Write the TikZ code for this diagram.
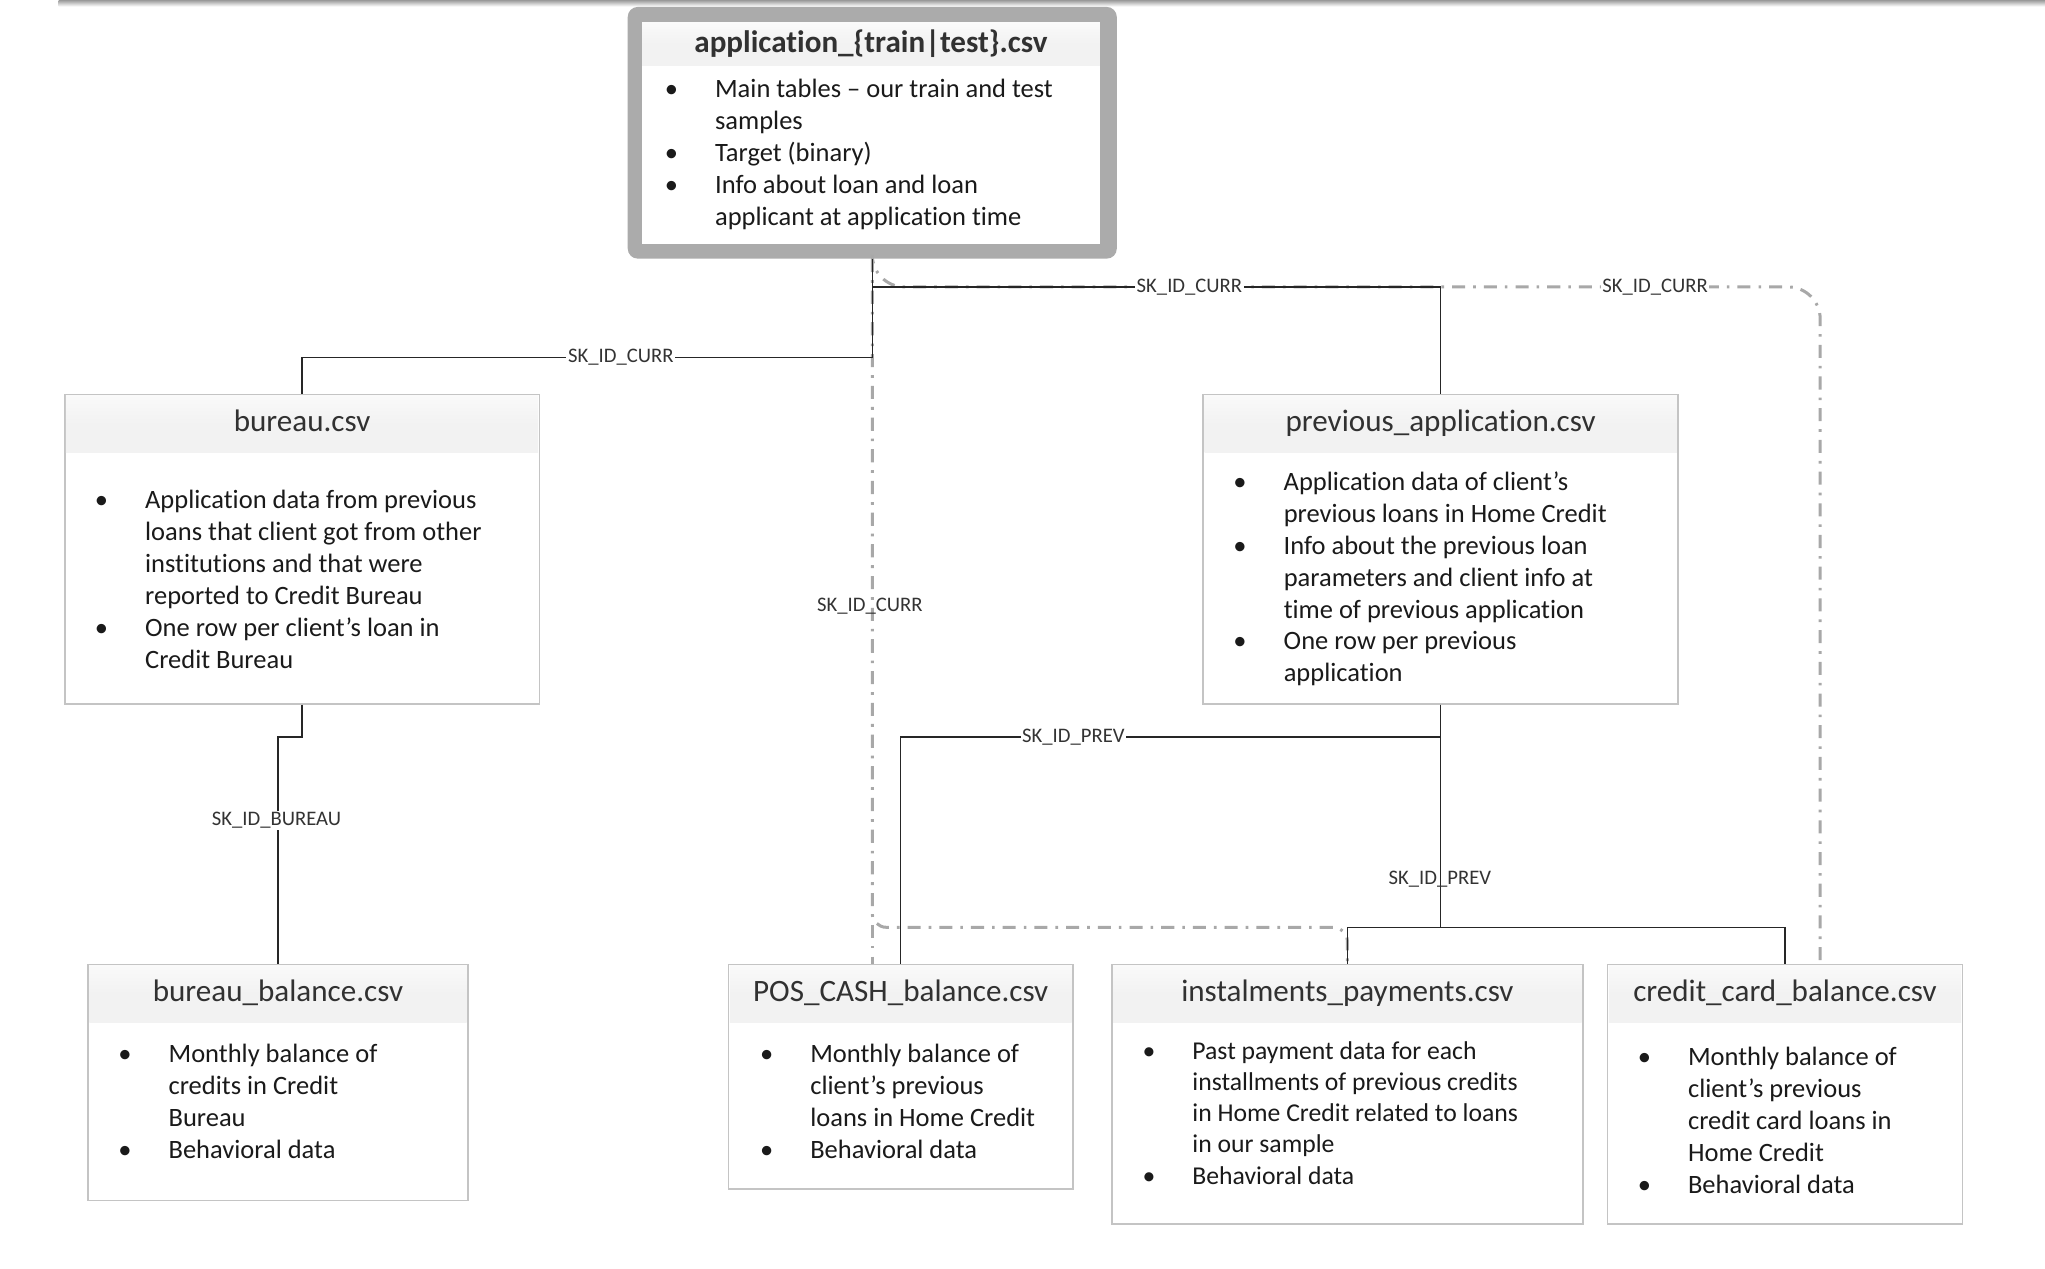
\documentclass[tikz,border=0pt]{standalone}
\usepackage{fontspec}
\setmainfont{Carlito}[Ligatures=NoCommon]
\usetikzlibrary{calc}
\definecolor{bordergray}{HTML}{C4C4C4}
\definecolor{hdrgray}{HTML}{F2F2F2}
\definecolor{appgray}{HTML}{ABABAB}
\definecolor{linkgray}{HTML}{A8A8A8}
\definecolor{txt}{HTML}{1A1A1A}
\newcommand\pxu{0.65pt}
\newcommand\bodyfont{\fontsize{13.2}{15.9}\selectfont}
\newcommand\bitem{\llap{\textbullet\hspace{18.5pt}}}
\tikzset{
 tbox/.style={draw=bordergray, line width=0.8pt, fill=white, rectangle, inner sep=0pt, anchor=north west},
 hdr/.style={top color=hdrgray!40, bottom color=hdrgray, middle color=hdrgray, inner sep=0pt, anchor=north,
   font=\fontsize{15.5}{18}\selectfont, text=txt!90, text height=11pt, text depth=3pt},
 body/.style={inner sep=0pt, anchor=base west, font=\bodyfont, text=txt},
 fk/.style={line width=0.75pt, draw=black!85},
 pk/.style={line width=1.5pt, draw=linkgray, dash pattern=on 6.5pt off 4pt on 1.3pt off 4pt},
 lbl/.style={font=\fontsize{10.3}{12}\selectfont, text=black!80, inner sep=0.8pt},
 lblh/.style={lbl, fill=white},
}
\begin{document}
\begin{tikzpicture}[x=0.65pt,y=-0.65pt]
\useasboundingbox (0,0) rectangle (1568,973);
\fill[top color=black!40, bottom color=white] (45,0) rectangle (1568,5);

% application box
\node[fill=appgray, rounded corners=5pt, minimum width=375*\pxu, minimum height=193*\pxu, inner sep=0pt, anchor=north west] (app) at (481,5) {};
\node[fill=white, minimum width=351*\pxu, minimum height=170*\pxu, inner sep=0pt, anchor=north west] (appIn) at (492,17) {};
\node[hdr, minimum width=351*\pxu, minimum height=33*\pxu] (appH) at (appIn.north) {\textbf{application\_\{train|test\}.csv}};
\node[body] (appB) at (548,75) {\begin{tabular}[t]{@{}l@{}}
\bitem Main tables – our train and test\\
samples\\
\bitem Target (binary)\\
\bitem Info about loan and loan\\
applicant at application time
\end{tabular}};

% bureau
\node[tbox, minimum width=364*\pxu, minimum height=237*\pxu] (bureau) at (49,302) {};
\node[hdr, minimum width=364*\pxu-1.2pt, minimum height=44*\pxu] (bureauH) at ($(bureau.north)+(0,0.7)$) {bureau.csv};
\node[body] (bureauB) at (111,390) {\begin{tabular}[t]{@{}l@{}}
\bitem Application data from previous\\
loans that client got from other\\
institutions and that were\\
reported to Credit Bureau\\
\bitem One row per client’s loan in\\
Credit Bureau
\end{tabular}};

% previous application
\node[tbox, minimum width=364*\pxu, minimum height=237*\pxu] (prev) at (922,302) {};
\node[hdr, minimum width=364*\pxu-1.2pt, minimum height=44*\pxu] (prevH) at ($(prev.north)+(0,0.7)$) {previous\_application.csv};
\node[body] (prevB) at (984,376) {\begin{tabular}[t]{@{}l@{}}
\bitem Application data of client’s\\
previous loans in Home Credit\\
\bitem Info about the previous loan\\
parameters and client info at\\
time of previous application\\
\bitem One row per previous\\
application
\end{tabular}};

% bureau balance
\node[tbox, minimum width=291*\pxu, minimum height=181*\pxu] (bb) at (67,739) {};
\node[hdr, minimum width=291*\pxu-1.2pt, minimum height=44*\pxu] (bbH) at ($(bb.north)+(0,0.7)$) {bureau\_balance.csv};
\node[body] (bbB) at (129,815) {\begin{tabular}[t]{@{}l@{}}
\bitem Monthly balance of\\
credits in Credit\\
Bureau\\
\bitem Behavioral data
\end{tabular}};

% POS cash
\node[tbox, minimum width=264*\pxu, minimum height=172*\pxu] (POS) at (558,739) {};
\node[hdr, minimum width=264*\pxu-1.2pt, minimum height=44*\pxu] (POSH) at ($(POS.north)+(0,0.7)$) {POS\_CASH\_balance.csv};
\node[body] (POSB) at (621,815) {\begin{tabular}[t]{@{}l@{}}
\bitem Monthly balance of\\
client’s previous\\
loans in Home Credit\\
\bitem Behavioral data
\end{tabular}};

% instalments
\node[tbox, minimum width=361*\pxu, minimum height=199*\pxu] (inst) at (852,739) {};
\node[hdr, minimum width=361*\pxu-1.2pt, minimum height=44*\pxu] (instH) at ($(inst.north)+(0,0.7)$) {instalments\_payments.csv};
\node[body, font=\fontsize{12.8}{15.6}\selectfont] (instB) at (914,812) {\begin{tabular}[t]{@{}l@{}}
\bitem Past payment data for each\\
installments of previous credits\\
in Home Credit related to loans\\
in our sample\\
\bitem Behavioral data
\end{tabular}};

% credit card
\node[tbox, minimum width=272*\pxu, minimum height=199*\pxu] (credit) at (1232,739) {};
\node[hdr, minimum width=272*\pxu-1.2pt, minimum height=44*\pxu] (creditH) at ($(credit.north)+(0,0.7)$) {credit\_card\_balance.csv};
\node[body] (creditB) at (1294,817) {\begin{tabular}[t]{@{}l@{}}
\bitem Monthly balance of\\
client’s previous\\
credit card loans in\\
Home Credit\\
\bitem Behavioral data
\end{tabular}};

% dash-dot SK_ID_CURR links
\coordinate (ccin) at ($(credit.north)+(27,0)$);
\draw[pk] (app.south) -- (app.south |- POS.north);
\draw[pk, rounded corners=7pt] (app.south) -- (app.south |- 0,711) -- (inst.north |- 0,711) -- (inst.north);
\draw[pk, rounded corners=16pt] (app.south) -- (app.south |- 0,220) -- (ccin |- 0,220) -- (ccin);

% solid links
\draw[fk] (app.south) -- (app.south |- 0,274) -| (bureau.north);
\draw[fk] (app.south |- 0,220) -| (prev.north);
\draw[fk] (prev.south) -- (prev.south |- 0,565) -| (POS.north);
\draw[fk] (prev.south) -- (prev.south |- 0,711) -| (inst.north);
\draw[fk] (prev.south |- 0,711) -| (credit.north);
\draw[fk] (bureau.south) -- (bureau.south |- 0,565) -| (bb.north);

% labels
\node[lblh] (l1) at (476,274) {SK\_ID\_CURR};
\node[lblh] (l2) at (912,220) {SK\_ID\_CURR};
\node[lblh] (l3) at (1269,220) {SK\_ID\_CURR};
\node[lbl] (l4) at (667,465) {SK\_ID\_CURR};
\node[lblh] (l5) at (823,565) {SK\_ID\_PREV};
\node[lbl] (l6) at (1104,674) {SK\_ID\_PREV};
\node[lblh] (l7) at (212,629) {SK\_ID\_BUREAU};
\end{tikzpicture}
\end{document}
